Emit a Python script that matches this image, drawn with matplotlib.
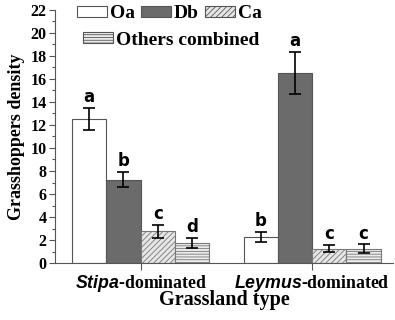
import numpy as np
import matplotlib
matplotlib.use("Agg")
from matplotlib import pyplot as plt
from matplotlib.patches import Patch
from matplotlib.ticker import MultipleLocator

plt.rcParams['font.family'] = ['Liberation Serif', 'DejaVu Serif']
plt.rcParams['font.weight'] = 'bold'
plt.rcParams['mathtext.fontset'] = 'custom'
plt.rcParams['mathtext.bfit'] = 'Liberation Sans:bold:italic'
plt.rcParams['hatch.linewidth'] = 0.6

# data
grasslands = [r'$\mathbfit{Stipa}$-dominated', r'$\mathbfit{Leymus}$-dominated']
species = ['Oa', 'Db', 'Ca', 'Others combined']
density = [[12.55, 2.25], [7.25, 16.5], [2.75, 1.25], [1.75, 1.25]]
errors = [[0.95, 0.43], [0.65, 1.85], [0.55, 0.33], [0.45, 0.37]]
letters = [['a', 'b'], ['b', 'a'], ['c', 'c'], ['d', 'c']]

# styles for each species
colors = ['white', '#6b6b6b', '#e6e6e6', '#ececec']
hatches = [None, None, '//////', '------']

fig = plt.figure(figsize=(3.95, 3.2), dpi=100)
ax = fig.add_axes([0.139, 0.178, 0.856, 0.791])

group_x = np.array([0, 5])
width = 1.0
offsets = [-1.5, -0.5, 0.5, 1.5]

for i in range(len(species)):
    xs = group_x + offsets[i]
    ax.bar(xs, density[i], width, color=colors[i], edgecolor='#555555',
           linewidth=0.8, hatch=hatches[i], zorder=2)
    ax.errorbar(xs, density[i], yerr=errors[i], fmt='none', ecolor='black',
                elinewidth=1.2, capsize=4, capthick=1.2, zorder=3)
    for j in range(len(group_x)):
        ax.text(xs[j], density[i][j] + errors[i][j] + 0.15, letters[i][j],
                ha='center', va='bottom', fontsize=12, fontweight='bold',
                family='DejaVu Sans', zorder=4)

# hatch color lighter gray
for p in ax.patches:
    if p.get_hatch():
        p.set_edgecolor('#777777')

ax.set_xlim(-2.5, 7.36)
ax.set_ylim(0, 22)
ax.set_xticks(group_x)
ax.set_xticklabels(grasslands, fontsize=12.8)
ax.yaxis.set_major_locator(MultipleLocator(2))
ax.yaxis.set_minor_locator(MultipleLocator(1))
ax.tick_params(axis='y', which='major', labelsize=11.5, length=4, width=0.8, color='#555555', pad=2)
ax.tick_params(axis='y', which='minor', length=2, width=0.8, color='#555555')
ax.tick_params(axis='x', length=5, width=0.8, color='#555555', pad=2)
for lab in ax.get_yticklabels():
    lab.set_fontweight('bold')

ax.spines['top'].set_visible(False)
ax.spines['right'].set_visible(False)
ax.spines['left'].set_color('#555555')
ax.spines['bottom'].set_color('#555555')

ax.set_xlabel('Grassland type', fontsize=14.5, fontweight='bold', labelpad=-3)
ax.set_ylabel('Grasshoppers density', fontsize=13, fontweight='bold')
ax.yaxis.set_label_coords(-0.088, 0.5)

handles = [Patch(facecolor=colors[i], edgecolor='#555555', hatch=hatches[i], linewidth=0.8)
           for i in range(len(species))]
leg_kw = dict(frameon=False, fontsize=14, handlelength=1.55, handleheight=0.5,
              handletextpad=0.15, borderaxespad=0, borderpad=0)
leg1 = ax.legend(handles[:3], species[:3], ncol=3, loc='center left',
                 bbox_to_anchor=(0.065, 0.984), columnspacing=0.3, **leg_kw)
ax.add_artist(leg1)
ax.legend(handles[3:], species[3:], loc='center left',
          bbox_to_anchor=(0.083, 0.881), **leg_kw)

fig.savefig('out.png', dpi=100)
